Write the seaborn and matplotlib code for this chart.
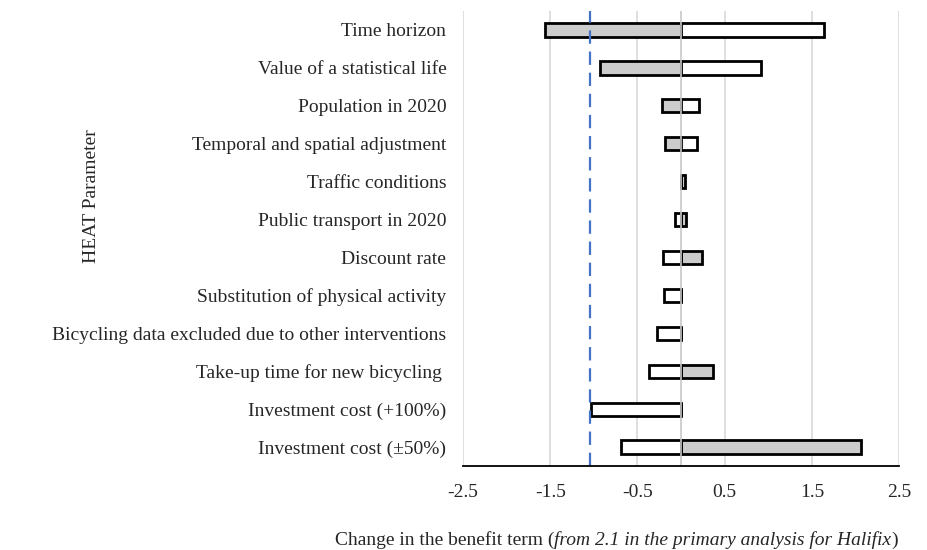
import matplotlib
matplotlib.use("Agg")
import matplotlib.pyplot as plt
import seaborn as sns
import pandas as pd

params = [
    "Time horizon",
    "Value of a statistical life",
    "Population in 2020",
    "Temporal and spatial adjustment",
    "Traffic conditions",
    "Public transport in 2020",
    "Discount rate",
    "Substitution of physical activity",
    "Bicycling data excluded due to other interventions",
    "Take-up time for new bicycling ",
    "Investment cost (+100%)",
    "Investment cost (\u00b150%)",
]
gray_vals = [-1.56, -0.93, -0.22, -0.19, 0.05, 0.06, 0.235, 0.0, 0.0, 0.37, 0.0, 2.06]
white_vals = [1.64, 0.92, 0.21, 0.18, 0.0, -0.075, -0.21, -0.20, -0.28, -0.37, -1.03, -0.69]
ref_line = -1.05
xticks = [-2.5, -1.5, -0.5, 0.5, 1.5, 2.5]
xlabel_parts = [("Change in the benefit term (", "normal"),
                ("from 2.1 in the primary analysis for Halifix", "italic"),
                (")", "normal")]
ylabel = "HEAT Parameter"

FS = 14

sns.set_theme(style="white")
plt.rcParams["font.family"] = ["Liberation Serif", "DejaVu Serif"]

df = pd.DataFrame({"param": params, "gray": gray_vals, "white": white_vals})

fig = plt.figure(figsize=(9.27, 5.5), dpi=100)
ax = fig.add_axes([0.4995, 0.1527, 0.4705, 0.8273])

for xv in xticks:
    ax.axvline(xv, color="#d9d9d9", lw=1.2, zorder=0)

sns.barplot(data=df, x="gray", y="param", color="#cccccc", saturation=1,
            edgecolor="black", linewidth=2, width=0.35, ax=ax, zorder=2)
sns.barplot(data=df, x="white", y="param", color="white", saturation=1,
            edgecolor="black", linewidth=2, width=0.35, ax=ax, zorder=2)

ax.axvline(0, color="#c8c8c8", lw=1.2, zorder=3)
ax.axvline(ref_line, color="#4472C4", lw=1.6, ls=(0, (6, 3.5)), zorder=4)

ax.set_xlim(-2.5, 2.5)
ax.set_xticks(xticks)
ax.set_xticklabels([f"{t}" for t in xticks], fontsize=FS)
ax.tick_params(axis="y", labelsize=FS, pad=12, length=0)
ax.tick_params(axis="x", pad=13, length=0)
ax.set_xlabel("")
ax.set_ylabel("")
for s in ["top", "right", "left"]:
    ax.spines[s].set_visible(False)
ax.spines["bottom"].set_color("black")
ax.spines["bottom"].set_linewidth(1.3)
ax.spines["bottom"].set_zorder(5)

fig.text(92 / 927, 1 - 196 / 550, ylabel, rotation=90,
         ha="center", va="center", fontsize=FS)

# composed x label with italic middle part, right aligned
fig.canvas.draw()
renderer = fig.canvas.get_renderer()
x_right = 898
y_base = 550 - 545
x = x_right
for text, style in reversed(xlabel_parts):
    t = fig.text(x / 927, y_base / 550, text, ha="right", va="baseline",
                 fontsize=FS, style=style)
    w = t.get_window_extent(renderer).width
    x -= w

fig.savefig("out.png", dpi=100)
